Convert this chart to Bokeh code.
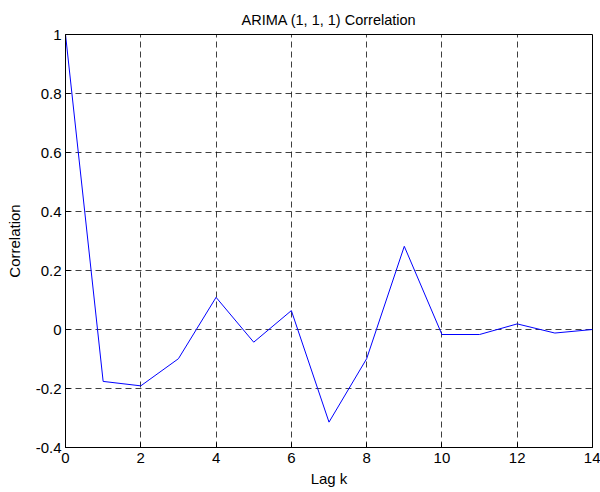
from bokeh.plotting import figure
from bokeh.models import FixedTicker, Range1d
from bokeh.embed import file_html
from bokeh.resources import INLINE

lags = [0, 1, 2, 3, 4, 5, 6, 7, 8, 9, 10, 11, 12, 13, 14]
corr = [1.0, -0.176, -0.191, -0.099, 0.109, -0.043, 0.064, -0.314,
        -0.099, 0.282, -0.017, -0.017, 0.019, -0.012, 0.0]

x_ticks = [0, 2, 4, 6, 8, 10, 12, 14]
y_ticks = [-0.4, -0.2, 0.0, 0.2, 0.4, 0.6, 0.8, 1.0]
y_tick_labels = ["-0.4", "-0.2", "0", "0.2", "0.4", "0.6", "0.8", "1"]

FONT = "Liberation Sans"

p = figure(width=600, height=492, output_backend="svg", toolbar_location=None,
           x_range=Range1d(0, 14), y_range=Range1d(-0.4, 1.0),
           min_border_left=65, min_border_right=8, min_border_top=34,
           min_border_bottom=45, title="ARIMA (1, 1, 1) Correlation")

p.line(lags, corr, line_color="#0000ff", line_width=1)

p.title.align = "center"
p.title.text_font = FONT
p.title.text_font_size = "14.5px"
p.title.text_font_style = "normal"
p.title.text_color = "black"
p.title.standoff = 13

p.outline_line_color = "black"
p.outline_line_width = 1
p.outline_line_alpha = 1

for ax in (p.xaxis[0], p.yaxis[0]):
    ax.major_label_text_font = FONT
    ax.major_label_text_font_size = "15px"
    ax.major_label_text_color = "black"
    ax.axis_label_text_font = FONT
    ax.axis_label_text_font_size = "15px"
    ax.axis_label_text_font_style = "normal"
    ax.axis_label_text_color = "black"
    ax.major_tick_in = 5
    ax.major_tick_out = 0
    ax.minor_tick_line_color = None
    ax.axis_line_color = "black"
    ax.major_tick_line_color = "black"

p.xaxis.ticker = FixedTicker(ticks=x_ticks)
p.yaxis.ticker = FixedTicker(ticks=y_ticks)
p.yaxis.major_label_overrides = {t: l for t, l in zip(y_ticks, y_tick_labels)}
p.xaxis.axis_label = "Lag k"
p.yaxis.axis_label = "Correlation"
p.xaxis.axis_label_standoff = 4
p.yaxis.axis_label_standoff = 10
p.xaxis.major_label_standoff = 5
p.yaxis.major_label_standoff = 4

for g in (p.xgrid[0], p.ygrid[0]):
    g.grid_line_color = "black"
    g.grid_line_alpha = 0.75
    g.grid_line_dash = "6 4"
    g.grid_line_width = 1

p.background_fill_color = "white"
p.border_fill_color = "white"

open("out.html", "w").write(file_html(p, INLINE))
